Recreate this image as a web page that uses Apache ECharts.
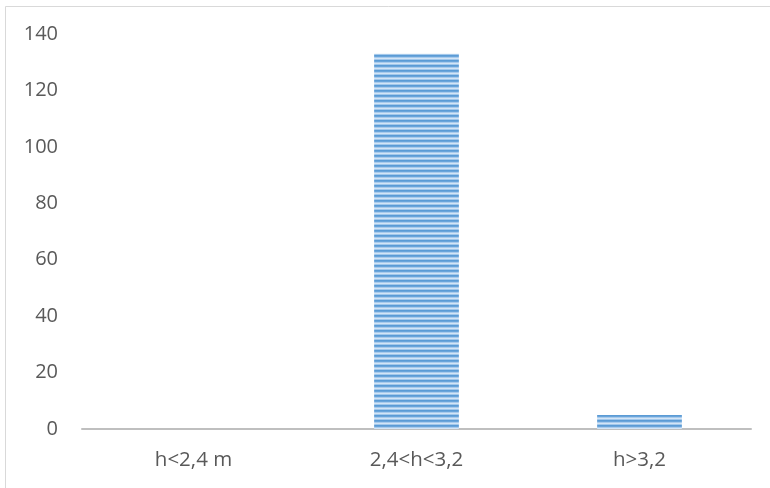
<!DOCTYPE html>
<html><head><meta charset="utf-8">
<script src="https://cdn.jsdelivr.net/npm/echarts@6/dist/echarts.min.js"></script>
<style>html,body{margin:0;padding:0;background:#fff}#c{width:770px;height:488px}</style>
</head><body><div id="c"></div>
<script>
const categories = ['h<2,4 m', '2,4<h<3,2', 'h>3,2'];
const values = [0, 133, 5];
const yTicks = [0, 20, 40, 60, 80, 100, 120, 140];

function stripePattern() {
  const cv = document.createElement('canvas');
  cv.width = 4; cv.height = 5;
  const ctx = cv.getContext('2d');
  const rows = ['#5b9bd5', '#6aa5da', '#a9cbed', '#d3e5f6', '#a3c8eb'];
  rows.forEach((c, i) => { ctx.fillStyle = c; ctx.fillRect(0, i, 4, 1); });
  return cv;
}

const chart = echarts.init(document.getElementById('c'), null, {renderer: 'canvas'});
chart.setOption({
  animation: false,
  backgroundColor: '#fff',
  textStyle: {fontFamily: 'Open Sans'},
  graphic: [{
    type: 'rect', shape: {x: 5.5, y: 6.5, width: 800, height: 500},
    style: {fill: 'none', stroke: '#d9d9d9', lineWidth: 1}, silent: true, z: -1
  }],
  grid: {left: 82, right: 19, top: 34, bottom: 59, containLabel: false},
  xAxis: {
    type: 'category', data: categories,
    axisLine: {lineStyle: {color: '#bfbfbf', width: 2}},
    axisTick: {show: false},
    axisLabel: {color: '#595959', fontSize: 20.5, margin: 21}
  },
  yAxis: {
    type: 'value', min: yTicks[0], max: yTicks[yTicks.length - 1], interval: 20,
    axisLine: {show: false}, axisTick: {show: false},
    splitLine: {show: false},
    axisLabel: {color: '#595959', fontSize: 20, margin: 24}
  },
  series: [{
    type: 'bar', data: values, barWidth: '38%',
    itemStyle: {color: {image: stripePattern(), repeat: 'repeat'}}
  }]
});
</script></body></html>
